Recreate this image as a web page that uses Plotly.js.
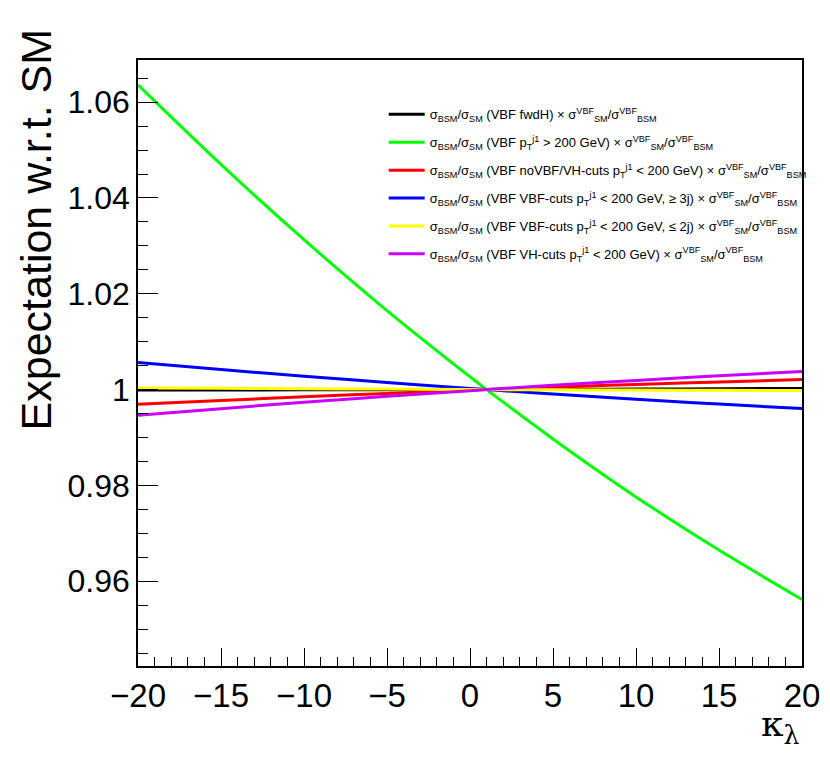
<!DOCTYPE html>
<html>
<head>
<meta charset="utf-8">
<script src="https://cdn.plot.ly/plotly-3.0.1.min.js"></script>
<style>
    body { margin: 0; background: #fff; }
    #chart { width: 830px; height: 757px; }
</style>
</head>
<body>
<div id="chart"></div>
<script>
let kappa = [-20, -15, -10, -5, 0, 1, 5, 10, 15, 20];

// expectation w.r.t. SM for each category
let fwdH      = [0.9999, 0.99992, 0.99994, 0.99997, 0.99999, 1.0, 1.00005, 1.00011, 1.00018, 1.00025];
let ptHigh    = [1.0636, 1.0470, 1.0313, 1.0165, 1.00267, 1.0, 0.9897, 0.9776, 0.9665, 0.9562];
let noVbfVh   = [0.99692, 0.99773, 0.99849, 0.9992, 0.99987, 1.0, 1.0005, 1.00107, 1.0016, 1.00209];
let vbf3j     = [1.00565, 1.00418, 1.00279, 1.00148, 1.00024, 1.0, 0.99907, 0.99798, 0.99697, 0.99603];
let vbf2j     = [1.00035, 1.00027, 1.00018, 1.0001, 1.00002, 1.0, 0.99996, 0.9999, 0.99985, 0.9998];
let vhCuts    = [0.99462, 0.99602, 0.99734, 0.99859, 0.99977, 1.0, 1.00088, 1.00192, 1.00288, 1.00377];

let prefix = "σ<sub>BSM</sub>/σ<sub>SM</sub> ";
let suffix = " × σ<sup>VBF</sup><sub>SM</sub>/σ<sup>VBF</sup><sub>BSM</sub>";
let labels = [
    "(VBF fwdH)",
    "(VBF p<sub>T</sub><sup>j1</sup> > 200 GeV)",
    "(VBF noVBF/VH-cuts p<sub>T</sub><sup>j1</sup> < 200 GeV)",
    "(VBF VBF-cuts p<sub>T</sub><sup>j1</sup> < 200 GeV, ≥ 3j)",
    "(VBF VBF-cuts p<sub>T</sub><sup>j1</sup> < 200 GeV, ≤ 2j)",
    "(VBF VH-cuts p<sub>T</sub><sup>j1</sup> < 200 GeV)"
];
let series = [fwdH, ptHigh, noVbfVh, vbf3j, vbf2j, vhCuts];
let colors = ["#000000", "#00ff00", "#ff0000", "#0000ff", "#ffff00", "#cc00ff"];

let data = series.map(function (values, i) {
    return {
        x: kappa,
        y: values,
        type: 'scatter',
        mode: 'lines',
        name: prefix + labels[i] + suffix,
        legendgroup: 'g' + i,
        line: { color: colors[i], width: 3, shape: 'spline' }
    };
});

let layout = {
    width: 830,
    height: 757,
    paper_bgcolor: "#fff",
    plot_bgcolor: "#fff",
    font: { family: "Liberation Sans, Arial, sans-serif", color: "#000" },
    margin: { l: 138, r: 28, t: 60, b: 91 },
    showlegend: true,
    legend: {
        x: 0.37,
        y: 0.935,
        xanchor: 'left',
        yanchor: 'top',
        bgcolor: 'rgba(0,0,0,0)',
        font: { size: 13 },
        itemwidth: 36,
        tracegroupgap: 8
    },
    xaxis: {
        range: [-20, 20],
        dtick: 5,
        tick0: 0,
        ticks: 'inside',
        ticklen: 18,
        tickwidth: 1,
        tickcolor: '#000',
        minor: { dtick: 1, ticks: 'inside', ticklen: 9, tickcolor: '#000' },
        showgrid: false,
        zeroline: false,
        showline: true,
        linecolor: '#000',
        linewidth: 1.5,
        mirror: true,
        tickfont: { size: 33 }
    },
    yaxis: {
        range: [0.9423, 1.0688],
        dtick: 0.02,
        tick0: 1,
        ticks: 'inside',
        ticklen: 20,
        tickwidth: 1,
        tickcolor: '#000',
        minor: { dtick: 0.005, ticks: 'inside', ticklen: 10, tickcolor: '#000' },
        showgrid: false,
        zeroline: false,
        showline: true,
        linecolor: '#000',
        linewidth: 1.5,
        mirror: true,
        tickfont: { size: 32 }
    },
    annotations: [{
        // y-axis title, aligned to the top end of the axis
        text: "Expectation w.r.t. SM",
        xref: 'paper',
        yref: 'paper',
        x: -0.154,
        y: 1.055,
        xanchor: 'center',
        yanchor: 'top',
        textangle: -90,
        showarrow: false,
        font: { size: 43 }
    }, {
        text: "κ<sub>λ</sub>",
        xref: 'paper',
        yref: 'paper',
        x: 1,
        y: -0.058,
        xanchor: 'right',
        yanchor: 'top',
        showarrow: false,
        font: { size: 36, family: "DejaVu Serif, serif" }
    }]
};

let config = {
    displayModeBar: false
};

let htmlElement = document.getElementById("chart");
Plotly.newPlot(htmlElement, data, layout, config);
</script>
</body>
</html>
